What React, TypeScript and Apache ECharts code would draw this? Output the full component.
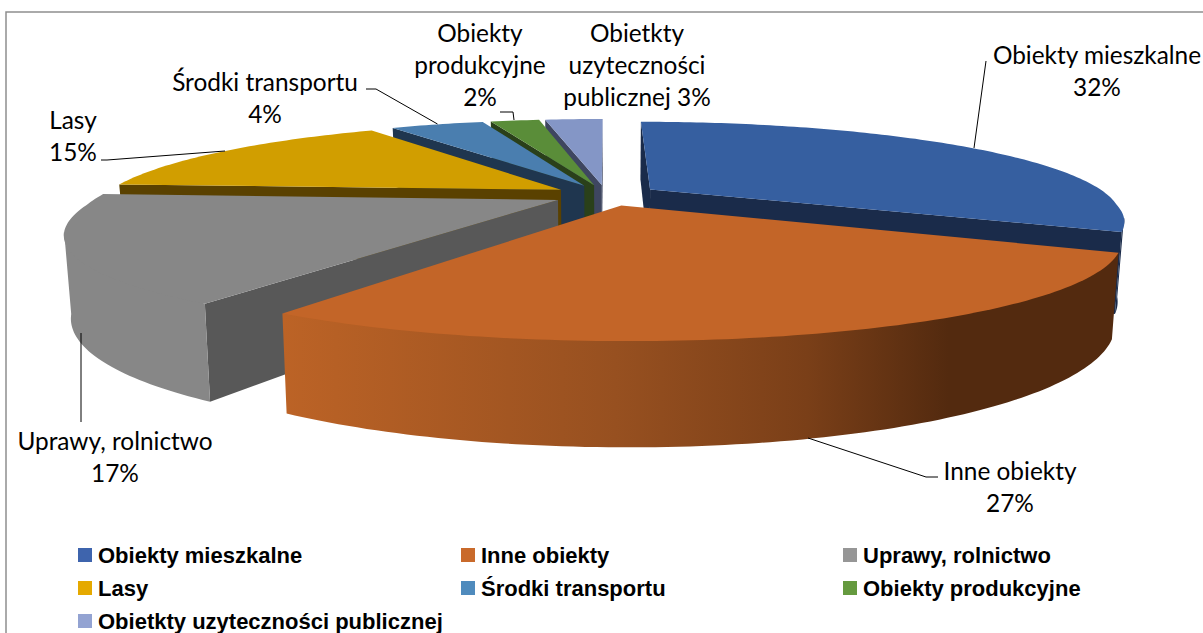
import React, { useEffect, useRef } from "react";
import * as echarts from "echarts";

const categories = ["Obiekty mieszkalne", "Inne obiekty", "Uprawy, rolnictwo", "Lasy", "Środki transportu", "Obiekty produkcyjne", "Obietkty uzyteczności publicznej"];
const values = [32, 27, 17, 15, 4.2, 2.2, 2.6];
const topColors = ["#365FA0", "#C36528", "#878787", "#D19E00", "#4A7EAF", "#5A8D39", "#8496C6"];
const faceColors = ["#1A2B4A", "#532A0F", "#585858", "#5A4100", "#1F364F", "#2A401A", "#3E4660"];
const legendColors = ["#3E64AD", "#C96A2B", "#969696", "#E5A900", "#4F8BBD", "#659A3F", "#93A3D2"];
const drawOrder = [6, 5, 4, 3, 0, 2, 1];
const labelLines = [
  ["Obiekty mieszkalne"], ["Inne obiekty"], ["Uprawy, rolnictwo"], ["Lasy"], ["Środki transportu"], ["Obiekty", "produkcyjne"], ["Obietkty", "uzyteczności", "publicznej"],
];

const CX = 606, VY = -140, CY = 195, KX = 472, D = 3.66, DX = 3.73, E = 0.116, H = 74, LOW_X = 0.987;
const CAM = [0, -D];
const rad = (d: number) => (d * Math.PI) / 180;
const project = (X: number, Z: number, low: boolean) => {
  const s = D / (D + Z);
  const sx = (DX / (DX + Z)) * (0.97 + 0.05 * Math.max(0, -Z - 0.1));
  return [CX + KX * X * sx * (low ? LOW_X : 1), VY + (CY - VY) * s + (low ? H * s : 0) + 2 * Math.max(0, Z)];
};

function sliceChildren(i: number) {
  const total = values.reduce((a, b) => a + b, 0);
  const before = values.slice(0, i).reduce((a, b) => a + b, 0);
  const a0 = (before / total) * 360;
  const a1 = ((before + values[i]) / total) * 360;
  const mid = rad((a0 + a1) / 2);
  const ax = E * Math.sin(mid), az = E * Math.cos(mid);
  const rim = (t: number) => [ax + Math.sin(rad(t)), az + Math.cos(rad(t))];
  const n = Math.max(2, Math.ceil(a1 - a0));
  const angles: number[] = [];
  for (let k = 0; k <= n; k++) angles.push(a0 + ((a1 - a0) * k) / n);

  const children: any[] = [];
  const poly = (points: number[][], fill: any) =>
    children.push({ type: "polygon", shape: { points }, style: { fill, stroke: null } });
  const face = (t: number, sign: number) => {
    const c = Math.cos(rad(t)), sn = Math.sin(rad(t));
    const nx = sign * c, nz = -sign * sn;
    if (nx * (CAM[0] - ax) + nz * (CAM[1] - az) <= 0) return;
    const [rx, rz] = rim(t);
    poly([project(ax, az, false), project(rx, rz, false), project(rx, rz, true), project(ax, az, true)], faceColors[i]);
  };
  face(a0, -1);
  face(a1, 1);

  const wallFill =
    i === 1
      ? new echarts.graphic.LinearGradient(283, 0, 1115, 0, [
          { offset: 0, color: "#BC6326" },
          { offset: 0.4, color: "#975020" },
          { offset: 0.63, color: "#7A3F18" },
          { offset: 0.8, color: "#532A0F" },
          { offset: 1, color: "#532A0F" },
        ], true)
      : i === 2
      ? "#878787"
      : faceColors[i];
  let run: number[] = [];
  const flush = () => {
    if (run.length > 1) {
      const pts = run.map((t, k) => {
        const [x, z] = rim(t);
        const p = project(x, z, false);
        // tuck the wall's upper edge under the top so no light seam shows
        return k === 0 || k === run.length - 1 ? p : [p[0], p[1] - 1.5];
      });
      const low = run.slice().reverse().map((t) => { const [x, z] = rim(t); return project(x, z, true); });
      poly(pts.concat(low), wallFill);
    }
    run = [];
  };
  angles.forEach((t) => {
    const [x, z] = rim(t);
    const nx = Math.sin(rad(t)), nz = Math.cos(rad(t));
    if (nx * (CAM[0] - x) + nz * (CAM[1] - z) > 0) run.push(t);
    else flush();
  });
  flush();

  const top = [project(ax, az, false)].concat(angles.map((t) => { const [x, z] = rim(t); return project(x, z, false); }));
  poly(top, topColors[i]);
  return children;
}

const labelText = (i: number) => {
  const lines = labelLines[i].slice();
  const pct = `${Math.round(values[i])}%`;
  if (i === 6) lines[lines.length - 1] += " " + pct;
  else lines.push(pct);
  return lines.join("\n");
};

const labelPlaces = [
  { x: 1097, y: 38 }, { x: 1010, y: 454 }, { x: 115, y: 424 }, { x: 73, y: 103 }, { x: 265, y: 65 }, { x: 480, y: 16 }, { x: 637, y: 16 },
];
const leaders = [
  [[986, 61], [974, 148]],
  [[808, 438], [926, 477], [938, 477]],
  [[81, 333], [81, 422]],
  [[101, 160], [107, 160], [225, 151]],
  [[366, 89], [376, 89], [437.5, 124]],
  [[500, 112], [513, 112], [514, 120]],
];
const legendColumns = [
  { left: 78, items: [0, 3, 6] },
  { left: 461, items: [1, 4] },
  { left: 843, items: [2, 5] },
];

export default function App() {
  const ref = useRef<HTMLDivElement>(null);
  useEffect(() => {
    const chart = echarts.init(ref.current!, undefined, { renderer: "svg" });
    chart.setOption({
      animation: false,
      backgroundColor: "#fff",
      legend: legendColumns.map((c) => ({
        left: c.left,
        top: 544,
        orient: "vertical",
        itemWidth: 14,
        itemHeight: 14,
        itemGap: 11,
        padding: 0,
        icon: "rect",
        selectedMode: false,
        textStyle: { fontFamily: "Liberation Sans", fontWeight: "bold", fontSize: 22, color: "#000", padding: [0, 0, 0, 1] },
        data: c.items.map((i) => ({ name: categories[i], itemStyle: { color: legendColors[i] } })),
      })),
      series: drawOrder.map((i) => ({
        type: "custom",
        name: categories[i],
        coordinateSystem: "none",
        itemStyle: { color: legendColors[i] },
        data: [[values[i]]],
        renderItem: () => ({ type: "group", children: sliceChildren(i) }),
      })),
      graphic: [
        { type: "polyline", z: 1, shape: { points: [[6, 633], [6, 12], [1203, 12]] }, style: { stroke: "#8E8E8E", lineWidth: 1.5, fill: null } },
        ...leaders.map((pts) => ({ type: "polyline", z: 10, shape: { points: pts }, style: { stroke: "#000", lineWidth: 1, fill: null } })),
        ...labelPlaces.map((p, i) => ({
          type: "text",
          z: 10,
          x: p.x,
          y: p.y,
          style: { text: labelText(i), fontFamily: "Lato", fontSize: 24.4, lineHeight: 32, align: "center", verticalAlign: "top", fill: "#000" },
        })),
      ],
    });
    return () => chart.dispose();
  }, []);
  return <div ref={ref} style={{ position: "absolute", left: 0, top: 0, width: 1203, height: 633 }} />;
}
